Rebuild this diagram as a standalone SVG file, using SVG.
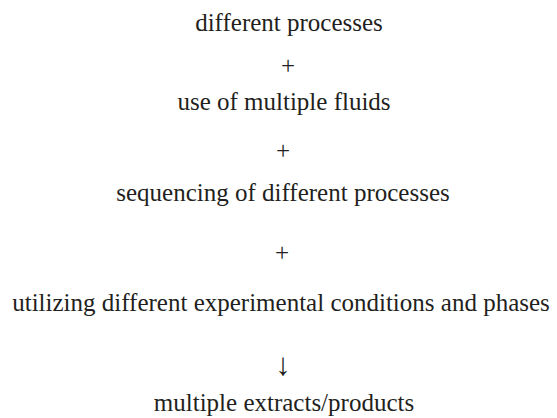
<svg xmlns="http://www.w3.org/2000/svg" width="557" height="418" viewBox="0 0 557 418">
<style>
text{font-family:"Liberation Serif","Times New Roman",serif;font-size:25px;fill:#231f20;text-anchor:middle}
.arrow{font-size:31px}
</style>
<rect width="557" height="418" fill="#ffffff"/>
<g id="n1"><text x="289" y="31">different processes</text></g>
<g id="p1"><text x="288" y="74">+</text></g>
<g id="n2"><text x="284" y="110">use of multiple fluids</text></g>
<g id="p2"><text x="283" y="159">+</text></g>
<g id="n3"><text x="283" y="201">sequencing of different processes</text></g>
<g id="p3"><text x="282" y="261">+</text></g>
<g id="n4"><text x="281" y="311">utilizing different experimental conditions and phases</text></g>
<g id="connectors"><text class="arrow" x="283" y="375">↓</text></g>
<g id="n5"><text x="284" y="411">multiple extracts/products</text></g>
</svg>
